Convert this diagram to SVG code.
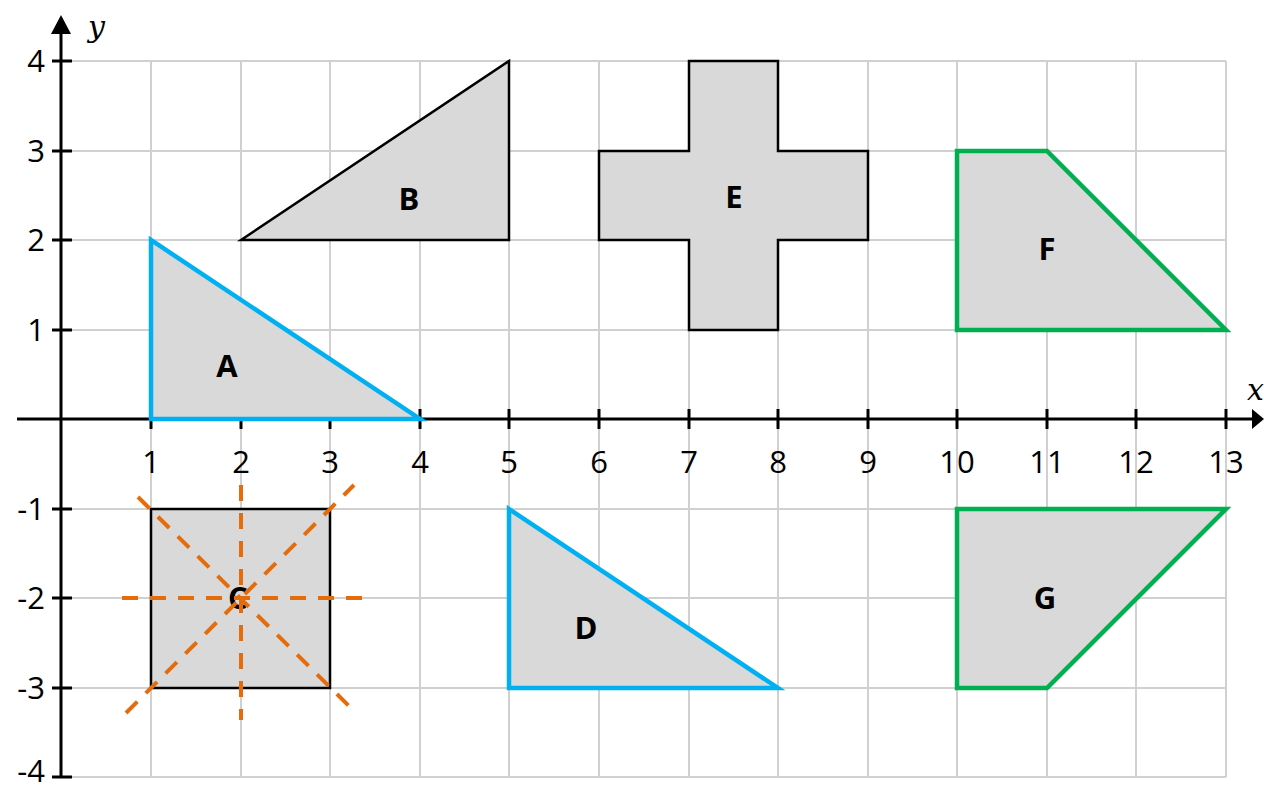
<svg xmlns="http://www.w3.org/2000/svg" width="1264" height="789" viewBox="0 0 1264 789">
<style>
.grid line{stroke:#d0d0d0;stroke-width:2}
.ax{stroke:#000;stroke-width:3;fill:none}
.tk{stroke:#000;stroke-width:3}
.num{font-family:"Open Sans","Liberation Sans",sans-serif;font-size:31px;fill:#000}
.lbl{font-family:"Open Sans","Liberation Sans",sans-serif;font-size:31px;font-weight:bold;fill:#000;text-anchor:middle}
.var{font-family:"DejaVu Serif","Liberation Serif",serif;font-style:italic;font-size:30px;fill:#000}
.shape{fill:#d9d9d9;stroke-linejoin:miter}
.blk{stroke:#000;stroke-width:2.5}
.blu{stroke:#00b0f0;stroke-width:4.5}
.grn{stroke:#00b050;stroke-width:4.5}
.dash{stroke:#e46c0a;stroke-width:4;stroke-dasharray:16 12;fill:none}
</style>
<rect width="1264" height="789" fill="#fff"/>
<g class="grid" id="grid">
<line x1="151" y1="61" x2="151" y2="777"/><line x1="241" y1="61" x2="241" y2="777"/><line x1="330" y1="61" x2="330" y2="777"/><line x1="420" y1="61" x2="420" y2="777"/><line x1="509" y1="61" x2="509" y2="777"/><line x1="599" y1="61" x2="599" y2="777"/><line x1="689" y1="61" x2="689" y2="777"/><line x1="778" y1="61" x2="778" y2="777"/><line x1="868" y1="61" x2="868" y2="777"/><line x1="957" y1="61" x2="957" y2="777"/><line x1="1047" y1="61" x2="1047" y2="777"/><line x1="1136" y1="61" x2="1136" y2="777"/><line x1="1226" y1="61" x2="1226" y2="777"/>
<line x1="61" y1="61" x2="1226" y2="61"/><line x1="61" y1="151" x2="1226" y2="151"/><line x1="61" y1="240" x2="1226" y2="240"/><line x1="61" y1="330" x2="1226" y2="330"/><line x1="61" y1="509" x2="1226" y2="509"/><line x1="61" y1="598" x2="1226" y2="598"/><line x1="61" y1="688" x2="1226" y2="688"/><line x1="61" y1="777" x2="1226" y2="777"/>
</g>
<g id="axes">
<line class="ax" x1="17" y1="419" x2="1252" y2="419"/>
<polygon points="1252,409 1264,419 1252,429" fill="#000"/>
<line class="ax" x1="61" y1="34" x2="61" y2="777"/>
<polygon points="51,34 61,15 71,34" fill="#000"/>
<g class="tk">
<line x1="52" y1="61" x2="72" y2="61"/><line x1="52" y1="151" x2="72" y2="151"/><line x1="52" y1="240" x2="72" y2="240"/><line x1="52" y1="330" x2="72" y2="330"/><line x1="52" y1="509" x2="72" y2="509"/><line x1="52" y1="598" x2="72" y2="598"/><line x1="52" y1="688" x2="72" y2="688"/><line x1="52" y1="777" x2="72" y2="777"/>
<line x1="151" y1="409" x2="151" y2="429"/><line x1="241" y1="409" x2="241" y2="429"/><line x1="330" y1="409" x2="330" y2="429"/><line x1="420" y1="409" x2="420" y2="429"/><line x1="509" y1="409" x2="509" y2="429"/><line x1="599" y1="409" x2="599" y2="429"/><line x1="689" y1="409" x2="689" y2="429"/><line x1="778" y1="409" x2="778" y2="429"/><line x1="868" y1="409" x2="868" y2="429"/><line x1="957" y1="409" x2="957" y2="429"/><line x1="1047" y1="409" x2="1047" y2="429"/><line x1="1136" y1="409" x2="1136" y2="429"/><line x1="1226" y1="409" x2="1226" y2="429"/>
</g>
<g class="num" text-anchor="end">
<text x="45" y="72">4</text><text x="45" y="162">3</text><text x="45" y="251">2</text><text x="45" y="341">1</text><text x="45" y="520">-1</text><text x="45" y="609">-2</text><text x="45" y="699">-3</text><text x="45" y="782">-4</text>
</g>
<g class="num" text-anchor="middle">
<text x="151" y="473">1</text><text x="241" y="473">2</text><text x="330" y="473">3</text><text x="420" y="473">4</text><text x="509" y="473">5</text><text x="599" y="473">6</text><text x="689" y="473">7</text><text x="778" y="473">8</text><text x="868" y="473">9</text><text x="957" y="473">10</text><text x="1047" y="473">11</text><text x="1136" y="473">12</text><text x="1226" y="473">13</text>
</g>
<text class="var" x="88" y="37">y</text>
<text class="var" x="1247" y="400">x</text>
</g>
<g id="A"><polygon class="shape blu" points="151,240 151,419 420,419"/><text class="lbl" x="227" y="377">A</text></g>
<g id="B"><polygon class="shape blk" points="241,240 509,61 509,240"/><text class="lbl" x="409" y="210">B</text></g>
<g id="E"><polygon class="shape blk" points="689,61 778,61 778,151 868,151 868,240 778,240 778,330 689,330 689,240 599,240 599,151 689,151"/><text class="lbl" x="734" y="208">E</text></g>
<g id="F"><polygon class="shape grn" points="957,151 1047,151 1226,330 957,330"/><text class="lbl" x="1047" y="260">F</text></g>
<g id="C"><rect class="shape blk" x="151" y="509" width="179" height="179"/><text class="lbl" x="238" y="609">C</text></g>
<g id="D"><polygon class="shape blu" points="509,509 509,688 778,688"/><text class="lbl" x="586" y="639">D</text></g>
<g id="G"><polygon class="shape grn" points="957,509 1226,509 1047,688 957,688"/><text class="lbl" x="1045" y="609">G</text></g>
<g id="connectors">
<line class="dash" x1="122" y1="598" x2="362" y2="598"/>
<line class="dash" x1="241" y1="485" x2="241" y2="720"/>
<line class="dash" x1="126" y1="713" x2="354" y2="485"/>
<line class="dash" x1="138" y1="497" x2="349" y2="706"/>
</g>
</svg>
